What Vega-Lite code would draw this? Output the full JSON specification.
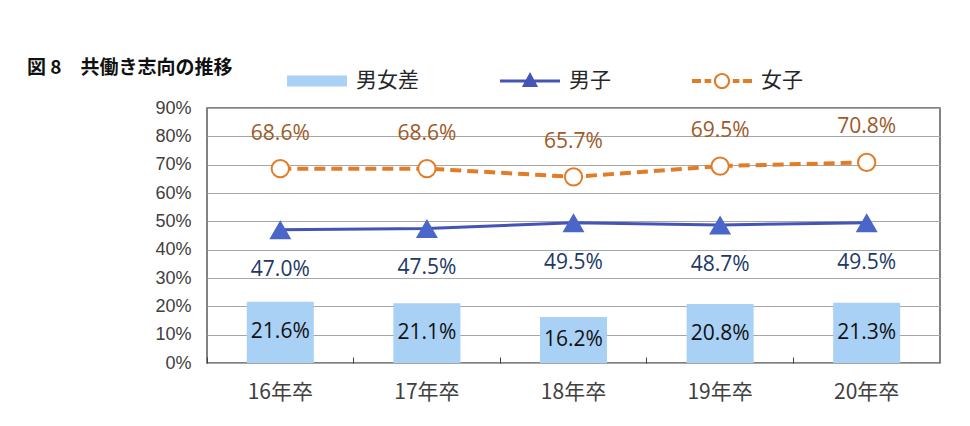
{
  "$schema": "https://vega.github.io/schema/vega-lite/v6.json",
  "width": 733,
  "height": 255,
  "autosize": "none",
  "padding": {"left": 207, "top": 108, "right": 30, "bottom": 63},
  "background": "white",
  "title": {
    "text": "図 8　共働き志向の推移",
    "anchor": "start",
    "frame": "group",
    "dx": -180,
    "dy": 63,
    "offset": 36,
    "font": "Noto Sans CJK JP",
    "fontSize": 19,
    "fontWeight": "bold",
    "color": "#111111"
  },
  "data": {
    "values": [
      {"year": "16年卒", "series": "男女差", "value": 0.216},
      {"year": "17年卒", "series": "男女差", "value": 0.211},
      {"year": "18年卒", "series": "男女差", "value": 0.162},
      {"year": "19年卒", "series": "男女差", "value": 0.208},
      {"year": "20年卒", "series": "男女差", "value": 0.213},
      {"year": "16年卒", "series": "男子", "value": 0.470},
      {"year": "17年卒", "series": "男子", "value": 0.475},
      {"year": "18年卒", "series": "男子", "value": 0.495},
      {"year": "19年卒", "series": "男子", "value": 0.487},
      {"year": "20年卒", "series": "男子", "value": 0.495},
      {"year": "16年卒", "series": "女子", "value": 0.686},
      {"year": "17年卒", "series": "女子", "value": 0.686},
      {"year": "18年卒", "series": "女子", "value": 0.657},
      {"year": "19年卒", "series": "女子", "value": 0.695},
      {"year": "20年卒", "series": "女子", "value": 0.708}
    ]
  },
  "config": {
    "view": {"stroke": "#595959", "strokeWidth": 1.5}
  },
  "encoding": {
    "x": {
      "field": "year",
      "type": "nominal",
      "sort": null,
      "scale": {"paddingInner": 0, "paddingOuter": 0},
      "axis": {
        "title": null,
        "labelAngle": 0,
        "bandPosition": 0,
        "tickSize": -6,
        "tickColor": "#404040",
        "tickWidth": 1,
        "domain": false,
        "labelFont": "Noto Sans CJK JP",
        "labelFontSize": 21,
        "labelColor": "#404040",
        "labelPadding": 24
      }
    },
    "y": {
      "field": "value",
      "type": "quantitative",
      "scale": {"domain": [0, 0.9], "nice": false},
      "axis": {
        "title": null,
        "format": ".0%",
        "values": [0, 0.1, 0.2, 0.3, 0.4, 0.5, 0.6, 0.7, 0.8, 0.9],
        "labelOverlap": false,
        "ticks": false,
        "domain": false,
        "gridColor": "#A6A6A6",
        "gridWidth": 1,
        "labelFont": "Liberation Sans Narrow, Liberation Sans, Arial",
        "labelFontSize": 18,
        "labelColor": "#404040",
        "labelPadding": 16
      }
    }
  },
  "layer": [
    {
      "transform": [{"filter": "datum.series === '男女差'"}],
      "mark": {"type": "bar", "width": 67},
      "encoding": {
        "color": {
          "field": "series",
          "type": "nominal",
          "scale": {
            "domain": ["男女差", "男子", "女子"],
            "range": ["#A9D0F5", "#4455B5", "#E27C27"]
          },
          "legend": {
            "orient": "none",
            "legendX": 80,
            "legendY": -57,
            "direction": "horizontal",
            "title": null,
            "labelFont": "Noto Sans CJK JP",
            "labelFontSize": 21,
            "labelColor": "#262626",
            "labelOffset": 9,
            "columnPadding": 81,
            "encode": {
              "symbols": {
                "update": {
                  "shape": {"signal": "datum.value === '男女差' ? 'M-1,-0.18H1V0.18H-1Z' : datum.value === '男子' ? 'M-1,-0.05H1V0.05H-1ZM0,-0.3L0.27,0.2H-0.27Z' : 'M-1,-0.065H-0.7V0.065H-1ZM-0.58,-0.065H-0.36V0.065H-0.58ZM0.36,-0.065H0.58V0.065H0.36ZM0.7,-0.065H1V0.065H0.7ZM0.27,0A0.27,0.27 0 1 1 -0.27,0A0.27,0.27 0 1 1 0.27,0ZM0.2,0A0.2,0.2 0 1 0 -0.2,0A0.2,0.2 0 1 0 0.2,0Z'"},
                  "size": {"value": 3600},
                  "strokeWidth": {"value": 0},
                  "opacity": {"value": 1}
                }
              }
            }
          }
        }
      }
    },
    {
      "transform": [{"filter": "datum.series === '男子'"}],
      "mark": {"type": "line", "color": "#4455B5", "strokeWidth": 3}
    },
    {
      "transform": [{"filter": "datum.series === '男子'"}],
      "mark": {"type": "point", "shape": "triangle-up", "filled": true, "fill": "#4A66C8", "size": 484, "opacity": 1, "strokeWidth": 0}
    },
    {
      "transform": [{"filter": "datum.series === '女子'"}],
      "mark": {"type": "line", "color": "#E27C27", "strokeWidth": 4, "strokeDash": [11, 6]}
    },
    {
      "transform": [{"filter": "datum.series === '女子'"}],
      "mark": {"type": "point", "shape": "circle", "filled": true, "fill": "#ffffff", "stroke": "#E27C27", "strokeWidth": 2, "size": 300, "opacity": 1}
    },
    {
      "transform": [{"filter": "datum.series === '男女差'"}],
      "mark": {"type": "text", "font": "Open Sans", "fontSize": 21, "color": "#111111", "baseline": "middle", "dy": {"expr": "datum.value * 141.7"}},
      "encoding": {
        "text": {"field": "value", "type": "quantitative", "format": ".1%"}
      }
    },
    {
      "transform": [{"filter": "datum.series === '男子'"}],
      "mark": {"type": "text", "font": "Open Sans", "fontSize": 21, "color": "#203864", "baseline": "middle", "dy": 40},
      "encoding": {
        "text": {"field": "value", "type": "quantitative", "format": ".1%"}
      }
    },
    {
      "transform": [{"filter": "datum.series === '女子'"}],
      "mark": {"type": "text", "font": "Open Sans", "fontSize": 21, "color": "#9C5A28", "baseline": "middle", "dy": -35},
      "encoding": {
        "text": {"field": "value", "type": "quantitative", "format": ".1%"}
      }
    }
  ]
}
